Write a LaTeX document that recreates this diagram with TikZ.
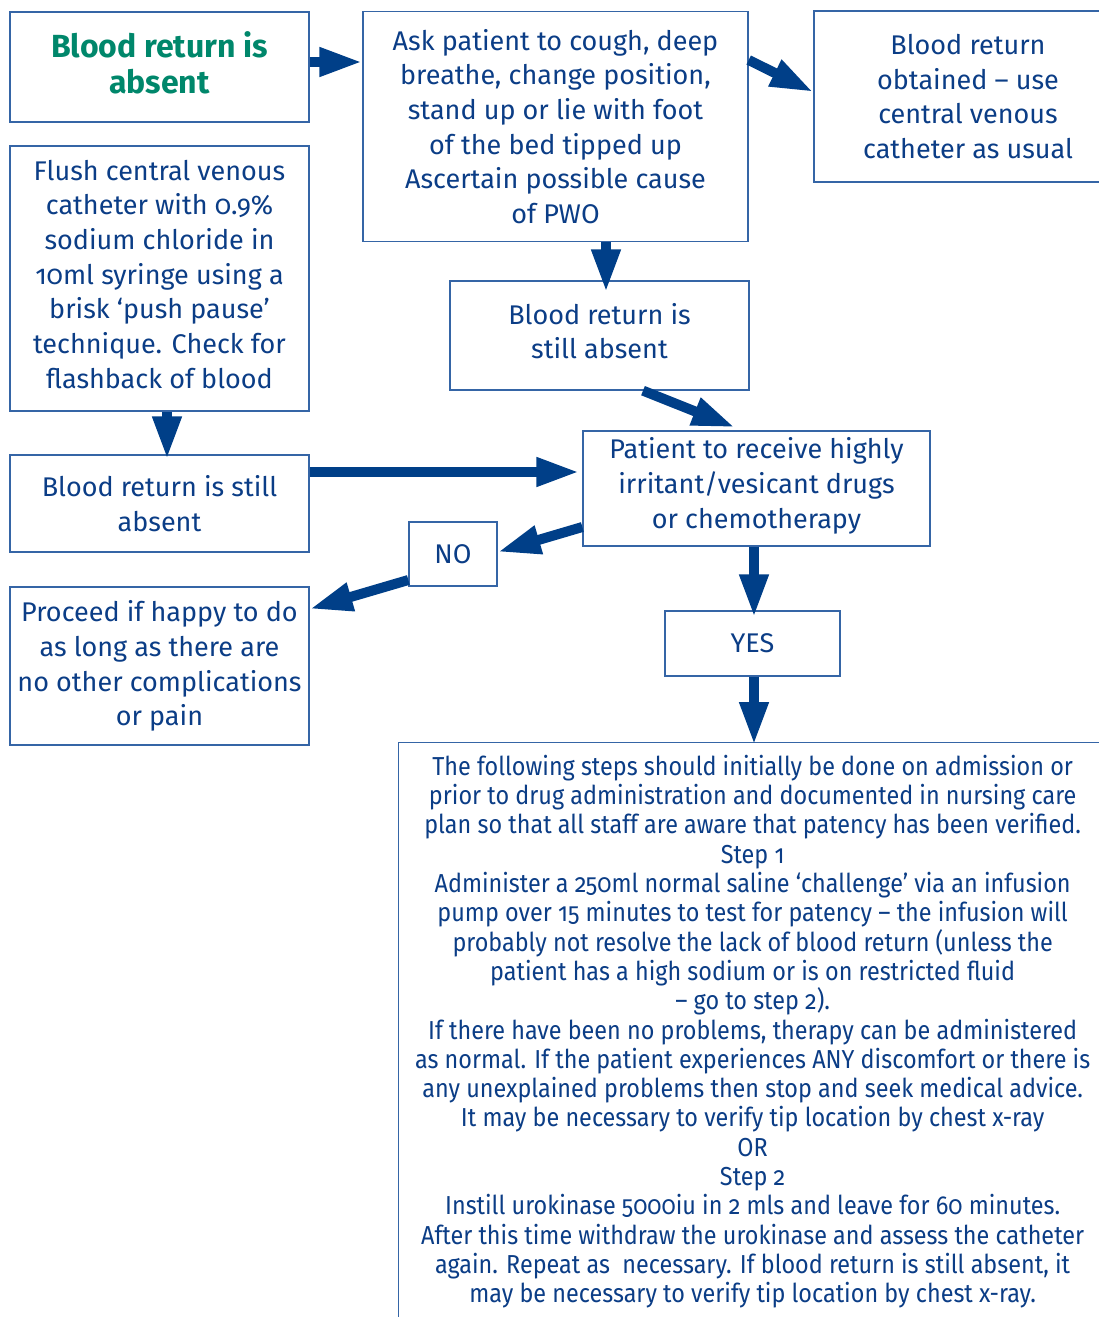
\documentclass[tikz,border=0pt]{standalone}
\usepackage{fontspec}
\setmainfont{Fira Sans}[Numbers=OldStyle]
\newfontfamily\condfont{Fira Sans}[Numbers=OldStyle,FakeStretch=0.9,Ligatures=TeX]
\usetikzlibrary{arrows.meta}
\definecolor{textblue}{HTML}{0B3D86}
\definecolor{boxblue}{HTML}{3565A6}
\definecolor{arrowblue}{HTML}{003F88}
\definecolor{titlegreen}{HTML}{00876B}
\tikzset{
  box/.style={draw=boxblue, line width=1.3pt, align=center, inner sep=0pt, text=textblue,
    font=\fontsize{27}{34.7}\selectfont},
  lift/.style={execute at end node={\rule[-#1]{0pt}{#1}}},
  arr/.style={draw=arrowblue, line width=10pt,
    -{Triangle[length=43pt,width=27pt]}},
}
\begin{document}
\begin{tikzpicture}[x=1pt,y=-1pt]
\useasboundingbox (0,0) rectangle (1099,1317);
\fill[white] (0,0) rectangle (1099,1317);

\node[box, lift=9pt, minimum width=299pt, minimum height=110pt, text=titlegreen,
  font=\fontsize{32}{36}\selectfont\bfseries] (b1) at (159.5,67)
  {Blood return is\\absent};
\node[box, minimum width=385pt, minimum height=230pt] (b2) at (555.5,126.5)
  {Ask patient to cough, deep\\breathe, change position,\\stand up or lie with foot\\of the bed tipped up\\Ascertain possible cause\\of PWO};
\node[box, minimum width=308pt, minimum height=171pt] (b3) at (968,96.5)
  {Blood return\\obtained – use\\central venous\\catheter as usual};
\node[box, lift=9pt, minimum width=299pt, minimum height=265pt] (b4) at (159.5,278.5)
  {Flush central venous\\catheter with 0.9\%\\sodium chloride in\\10ml syringe using a\\brisk ‘push pause’\\technique. Check for\\flashback of blood};
\node[box, lift=9pt, minimum width=299pt, minimum height=109pt] (b5) at (599.5,335.5)
  {Blood return is\\still absent};
\node[box, minimum width=299pt, minimum height=97pt] (b6) at (159.5,503.5)
  {Blood return is still\\absent};
\node[box, lift=11pt, minimum width=347pt, minimum height=115pt] (b7) at (756.5,488.5)
  {Patient to receive highly\\irritant/vesicant drugs\\or chemotherapy};
\node[box, minimum width=88pt, minimum height=64pt] (no) at (453,554) {NO};
\node[box, minimum width=299pt, minimum height=158pt] (b8) at (159.5,666)
  {Proceed if happy to do\\as long as there are\\no other complications\\or pain};
\node[box, minimum width=175pt, minimum height=65pt] (yes) at (752.5,643.5) {YES};
\node[box, minimum width=708pt, minimum height=578pt, anchor=north west,
  font=\condfont\fontsize{26}{29.3}\selectfont] (steps) at (398,742)
  {The following steps should initially be done on admission or\\
   prior to drug administration and documented in nursing care\\
   plan so that all staff are aware that patency has been verified.\\
   Step 1\\
   Administer a 250ml normal saline ‘challenge’ via an infusion\\
   pump over 15 minutes to test for patency – the infusion will\\
   probably not resolve the lack of blood return (unless the\\
   patient has a high sodium or is on restricted fluid\\
   – go to step 2).\\
   If there have been no problems, therapy can be administered\\
   as normal. If the patient experiences ANY discomfort or there is\\
   any unexplained problems then stop and seek medical advice.\\
   It may be necessary to verify tip location by chest x-ray\\
   OR\\
   Step 2\\
   Instill urokinase 5000iu in 2 mls and leave for 60 minutes.\\
   After this time withdraw the urokinase and assess the catheter\\
   again. Repeat as\ \ necessary. If blood return is still absent, it\\
   may be necessary to verify tip location by chest x-ray.};

% connectors
\draw[arr] ([yshift=5pt]b1.east) -- ([yshift=5pt]b1.east -| b2.west);
\draw[arr] ([yshift=66.5pt]b2.east) -- ([yshift=4.5pt]b3.west);
\draw[arr] ([xshift=50.5pt]b2.south) -- ([xshift=50.5pt,yshift=-12pt]b2.south |- b5.north);
\draw[arr] ([xshift=43.5pt]b5.south) -- ([xshift=-21.5pt,yshift=3pt]b7.north);
\draw[arr] ([xshift=7.5pt]b4.south) -- ([xshift=7.5pt,yshift=-5pt]b4.south |- b6.north);
\draw[arr] ([yshift=31.5pt]b6.east) -- ([yshift=31.5pt,xshift=-3pt]b6.east -| b7.west);
\draw[arr] ([yshift=-38.5pt]b7.west) -- ([yshift=2pt]no.east);
\draw[arr] ([yshift=-26pt]no.west) -- ([yshift=57pt]b8.east);
\draw[arr] ([xshift=-2.5pt]b7.south) -- ([xshift=-2.5pt,yshift=-7pt]b7.south |- yes.north);
\draw[arr] ([xshift=1.5pt]yes.south) -- ([xshift=1.5pt,yshift=-3pt]yes.south |- steps.north);
\end{tikzpicture}
\end{document}
